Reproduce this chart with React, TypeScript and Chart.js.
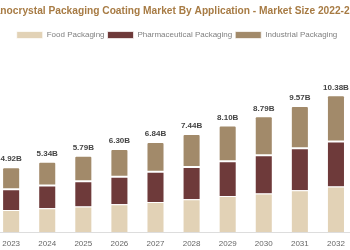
import React, { useEffect, useRef } from "react";
import { Chart, registerables } from "chart.js";

Chart.register(...registerables);

const years = ["2022", "2023", "2024", "2025", "2026", "2027", "2028", "2029", "2030", "2031", "2032"];
const foodPackaging = [1.53, 1.67, 1.8, 1.93, 2.1, 2.27, 2.49, 2.73, 2.93, 3.18, 3.46];
const pharmaceuticalPackaging = [1.48, 1.58, 1.74, 1.92, 2.1, 2.3, 2.44, 2.64, 2.91, 3.19, 3.41];
const industrialPackaging = [1.52, 1.67, 1.8, 1.94, 2.1, 2.27, 2.51, 2.73, 2.95, 3.2, 3.51];

const titleText = "Nanocrystal Packaging Coating Market By Application - Market Size 2022-2032";
const FONT = "Arial, 'Liberation Sans', sans-serif";

// Writes the stacked total above every bar
const totalLabels = {
  id: "totalLabels",
  afterDatasetsDraw(chart: any) {
    const { ctx } = chart;
    const lastMeta = chart.getDatasetMeta(chart.data.datasets.length - 1);
    ctx.save();
    ctx.font = `bold 8px ${FONT}`;
    ctx.fillStyle = "#444";
    ctx.textAlign = "center";
    ctx.textBaseline = "bottom";
    lastMeta.data.forEach((bar: any, i: number) => {
      const total = chart.data.datasets.reduce((s: number, d: any) => s + d.data[i], 0);
      ctx.fillText(total.toFixed(2) + "B", bar.x, bar.y - 4);
    });
    ctx.restore();
  },
};

export default function App() {
  const ref = useRef<HTMLCanvasElement>(null);

  useEffect(() => {
    if (!ref.current) return;
    const chart = new Chart(ref.current, {
      type: "bar",
      data: {
        labels: years,
        datasets: [
          {
            label: "Food Packaging",
            data: foodPackaging,
            backgroundColor: "#e2d2b6",
            borderColor: "rgba(255,255,255,0.7)",
            borderWidth: 1,
          },
          {
            label: "Pharmaceutical Packaging",
            data: pharmaceuticalPackaging,
            backgroundColor: "#6e3a3a",
            borderColor: "rgba(255,255,255,0.7)",
            borderWidth: 1,
          },
          {
            label: "Industrial Packaging",
            data: industrialPackaging,
            backgroundColor: "#a28a6a",
            borderColor: "rgba(255,255,255,0.7)",
            borderWidth: 1,
            borderRadius: { topLeft: 2, topRight: 2, bottomLeft: 0, bottomRight: 0 },
            borderSkipped: false,
          },
        ],
      },
      options: {
        animation: false,
        responsive: false,
        maintainAspectRatio: false,
        layout: { padding: { left: 2, right: 0, top: 5, bottom: 0 } },
        datasets: { bar: { barPercentage: 0.5, categoryPercentage: 1 } },
        plugins: {
          title: {
            display: true,
            text: titleText,
            color: "#a77b44",
            font: { family: FONT, size: 10.2, weight: "bold" },
            padding: { top: 0, bottom: 10.8 },
          },
          legend: {
            display: true,
            labels: {
              boxWidth: 26,
              boxHeight: 7,
              color: "#808080",
              font: { family: FONT, size: 8 },
              padding: 3,
            },
          },
          tooltip: { enabled: false },
        },
        scales: {
          x: {
            stacked: true,
            grid: { display: false, drawTicks: false },
            border: { display: true, color: "#ddd" },
            ticks: { color: "#666", font: { family: FONT, size: 8 }, padding: 7 },
            afterFit: (scale: any) => {
              scale.height = 18;
            },
          },
          y: {
            stacked: true,
            position: "right",
            min: 0,
            max: 13.9,
            grid: { display: false, drawTicks: false },
            border: { display: false },
            ticks: { display: false },
            afterFit: (scale: any) => {
              scale.width = 43;
            },
          },
        },
      },
      plugins: [totalLabels],
    });
    return () => chart.destroy();
  }, []);

  return (
    <div style={{ position: "fixed", left: 0, top: 0, width: 350, height: 250, overflow: "hidden", background: "#fff" }}>
      <div style={{ position: "absolute", left: -45, top: 0, width: 442, height: 250 }}>
        <canvas ref={ref} width={442} height={250} style={{ width: 442, height: 250, display: "block" }} />
      </div>
    </div>
  );
}
